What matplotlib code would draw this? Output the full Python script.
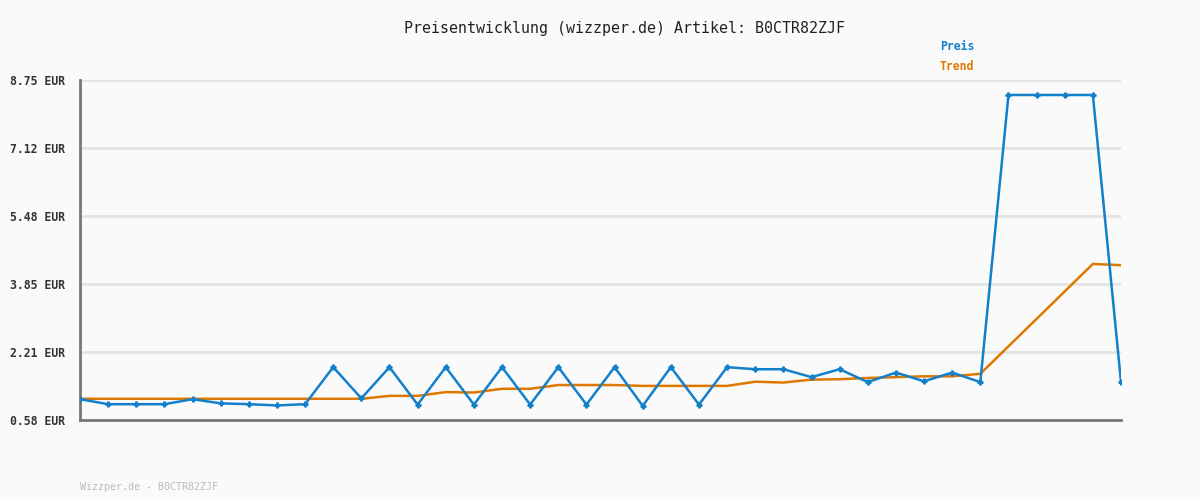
import matplotlib.pyplot as plt
import numpy as np

# price readings (EUR), one per sample
preis = [1.08, 0.96, 0.96, 0.96, 1.08, 0.98, 0.96, 0.93, 0.96, 1.85,
         1.10, 1.85, 0.95, 1.85, 0.95, 1.85, 0.95, 1.85, 0.95, 1.85,
         0.92, 1.85, 0.95, 1.85, 1.80, 1.80, 1.61, 1.80, 1.49, 1.72,
         1.51, 1.72, 1.49, 8.39, 8.39, 8.39, 8.39, 1.49]
trend = [1.09, 1.09, 1.09, 1.09, 1.09, 1.09, 1.09, 1.09, 1.09, 1.09,
         1.09, 1.16, 1.16, 1.25, 1.24, 1.33, 1.33, 1.42, 1.42, 1.42,
         1.40, 1.40, 1.40, 1.40, 1.50, 1.48, 1.55, 1.56, 1.59, 1.61,
         1.63, 1.63, 1.69, 2.35, 3.01, 3.67, 4.33, 4.30]
yticks = [0.58, 2.21, 3.85, 5.48, 7.12, 8.75]

bg = '#fafafa'
blue = '#1380cc'
orange = '#e07800'
mono = 'DejaVu Sans Mono'

fig = plt.figure(figsize=(12, 5), dpi=100, facecolor=bg)
ax = fig.add_axes([80/1200, 80/500, 1041/1200, 340/500], facecolor=bg)

x = np.arange(len(preis))
ax.plot(x, trend, color=orange, lw=1.8, zorder=3)
ax.plot(x, preis, color=blue, lw=1.8, marker='P', ms=3.5, zorder=4)

ax.set_xlim(0, len(preis) - 1)
ax.set_ylim(yticks[0], yticks[-1])
ax.set_yticks(yticks)
ax.set_yticklabels([f'{v:.2f} EUR' for v in yticks], family=mono,
                   fontsize=8.3, fontweight='bold', color='#333333')
ax.set_xticks([])
ax.tick_params(axis='y', length=0, pad=11)
ax.grid(axis='y', color='#e4e4e4', lw=2)
ax.set_axisbelow(True)

for s in ['top', 'right']:
    ax.spines[s].set_visible(False)
for s in ['left', 'bottom']:
    ax.spines[s].set_color('#777777')
    ax.spines[s].set_linewidth(2)

fig.text(624/1200, 1 - 28/500, 'Preisentwicklung (wizzper.de) Artikel: B0CTR82ZJF',
         ha='center', va='center', family=mono, fontsize=10.8, color='#222222')
fig.text(940/1200, 1 - 46/500, 'Preis', ha='left', va='center', family=mono,
         fontsize=8.3, fontweight='bold', color=blue)
fig.text(940/1200, 1 - 67/500, 'Trend', ha='left', va='center', family=mono,
         fontsize=8.3, fontweight='bold', color=orange)
fig.text(80/1200, 1 - 487/500, 'Wizzper.de - B0CTR82ZJF', ha='left', va='center',
         family=mono, fontsize=7.2, color='#bbbbbb')

fig.savefig('out.png', dpi=100, facecolor=bg)
